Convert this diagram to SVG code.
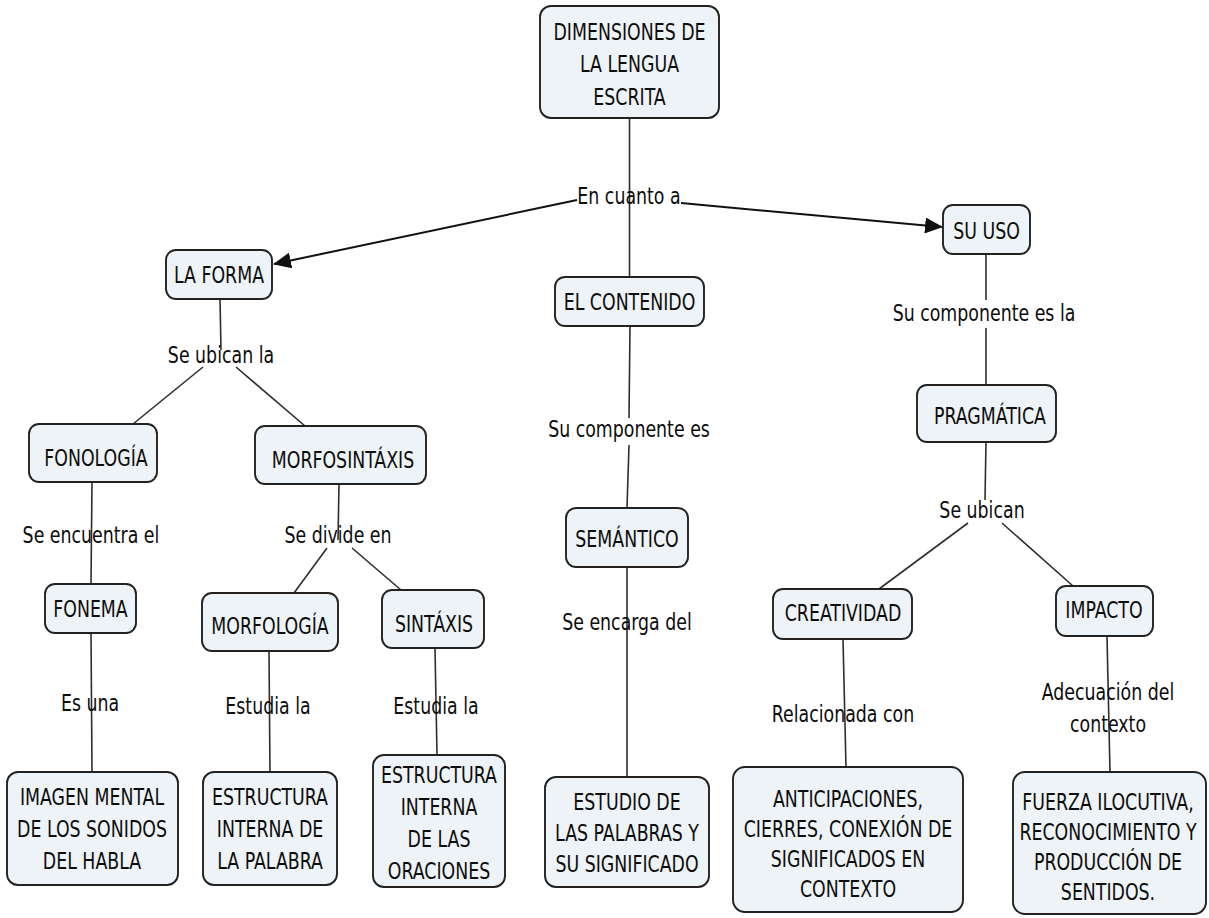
<svg xmlns="http://www.w3.org/2000/svg" width="1209" height="918" viewBox="0 0 1209 918">
<style>
.box{fill:#edf3f6;stroke:#222;stroke-width:1.9}
.t{font-family:"DejaVu Sans Condensed","DejaVu Sans",sans-serif;font-size:23px;fill:#0d0d0d;text-anchor:middle}
.c{stroke:#2e2e2e;stroke-width:1.6;fill:none}
.a{stroke:#111;stroke-width:2;fill:none}
</style>
<defs>
<marker id="arr" markerUnits="userSpaceOnUse" markerWidth="18" markerHeight="16" viewBox="0 0 18 16" refX="17" refY="8" orient="auto">
<path d="M0,0 L18,8 L0,16 Z" fill="#111"/>
</marker>
</defs>
<rect width="1209" height="918" fill="#fff"/>
<g id="connectors">
<line class="c" x1="629.5" y1="118" x2="629.5" y2="277"/>
<line class="a" x1="577" y1="200" x2="274" y2="264" marker-end="url(#arr)"/>
<line class="a" x1="681" y1="203" x2="942" y2="227" marker-end="url(#arr)"/>
<line class="c" x1="220" y1="299" x2="221" y2="350"/>
<line class="c" x1="203" y1="367" x2="133" y2="424"/>
<line class="c" x1="236" y1="367" x2="305" y2="426"/>
<line class="c" x1="92" y1="482" x2="91" y2="584"/>
<line class="c" x1="339" y1="484" x2="338" y2="540"/>
<line class="c" x1="327" y1="548" x2="294" y2="593"/>
<line class="c" x1="352" y1="548" x2="401" y2="590"/>
<line class="c" x1="91" y1="633" x2="92" y2="772"/>
<line class="c" x1="269" y1="651" x2="270" y2="772"/>
<line class="c" x1="435" y1="648" x2="437" y2="755"/>
<line class="c" x1="630" y1="326" x2="629" y2="418"/>
<line class="c" x1="629" y1="445" x2="627" y2="508"/>
<line class="c" x1="627" y1="567" x2="627" y2="777"/>
<line class="c" x1="986" y1="254" x2="986" y2="300"/>
<line class="c" x1="986" y1="328" x2="986" y2="385"/>
<line class="c" x1="986" y1="442" x2="985" y2="500"/>
<line class="c" x1="968" y1="523" x2="879" y2="589"/>
<line class="c" x1="1002" y1="523" x2="1073" y2="586"/>
<line class="c" x1="843" y1="639" x2="846" y2="767"/>
<line class="c" x1="1107" y1="636" x2="1110" y2="772"/>
</g>
<g id="labels">
<text class="t" transform="translate(629,204) scale(0.84,1)">En cuanto a</text>
<text class="t" transform="translate(221,363) scale(0.84,1)">Se ubican la</text>
<text class="t" transform="translate(91,543) scale(0.84,1)">Se encuentra el</text>
<text class="t" transform="translate(338,543) scale(0.84,1)">Se divide en</text>
<text class="t" transform="translate(90,711) scale(0.84,1)">Es una</text>
<text class="t" transform="translate(268,714) scale(0.84,1)">Estudia la</text>
<text class="t" transform="translate(436,714) scale(0.84,1)">Estudia la</text>
<text class="t" transform="translate(629,437) scale(0.84,1)">Su componente es</text>
<text class="t" transform="translate(627,630) scale(0.84,1)">Se encarga del</text>
<text class="t" transform="translate(984,321) scale(0.84,1)">Su componente es la</text>
<text class="t" transform="translate(982,518) scale(0.84,1)">Se ubican</text>
<text class="t" transform="translate(843,722) scale(0.84,1)">Relacionada con</text>
<text class="t" transform="translate(1108,700) scale(0.84,1)"><tspan x="0">Adecuación del</tspan><tspan x="0" dy="32">contexto</tspan></text>
</g>
<g id="n-dimensiones"><rect class="box" x="540" y="6" width="179" height="112" rx="11"/>
<text class="t" transform="translate(629.5,40) scale(0.84,1)"><tspan x="0">DIMENSIONES DE</tspan><tspan x="0" dy="32.5">LA LENGUA</tspan><tspan x="0" dy="32.5">ESCRITA</tspan></text></g>
<g id="n-forma"><rect class="box" x="166" y="250" width="106" height="49" rx="10"/>
<text class="t" transform="translate(219,283) scale(0.84,1)">LA FORMA</text></g>
<g id="n-contenido"><rect class="box" x="555" y="277" width="149" height="49" rx="10"/>
<text class="t" transform="translate(629.5,310) scale(0.84,1)">EL CONTENIDO</text></g>
<g id="n-uso"><rect class="box" x="943" y="205" width="87" height="49" rx="10"/>
<text class="t" transform="translate(986.5,239) scale(0.84,1)">SU USO</text></g>
<g id="n-fonologia"><rect class="box" x="29" y="424" width="128" height="58" rx="10"/>
<text class="t" transform="translate(96,466) scale(0.84,1)">FONOLOGÍA</text></g>
<g id="n-morfosintaxis"><rect class="box" x="255" y="426" width="171" height="58" rx="10"/>
<text class="t" transform="translate(343,468) scale(0.84,1)">MORFOSINTÁXIS</text></g>
<g id="n-fonema"><rect class="box" x="45" y="584" width="91" height="49" rx="10"/>
<text class="t" transform="translate(90.5,617) scale(0.84,1)">FONEMA</text></g>
<g id="n-morfologia"><rect class="box" x="202" y="593" width="136" height="58" rx="10"/>
<text class="t" transform="translate(270,634) scale(0.84,1)">MORFOLOGÍA</text></g>
<g id="n-sintaxis"><rect class="box" x="382" y="590" width="102" height="58" rx="10"/>
<text class="t" transform="translate(434,632) scale(0.84,1)">SINTÁXIS</text></g>
<g id="n-imagen"><rect class="box" x="7" y="772" width="171" height="113" rx="11"/>
<text class="t" transform="translate(92,805) scale(0.84,1)"><tspan x="0">IMAGEN MENTAL</tspan><tspan x="0" dy="32">DE LOS SONIDOS</tspan><tspan x="0" dy="32">DEL HABLA</tspan></text></g>
<g id="n-estructura-palabra"><rect class="box" x="203" y="772" width="134" height="113" rx="11"/>
<text class="t" transform="translate(270,805) scale(0.84,1)"><tspan x="0">ESTRUCTURA</tspan><tspan x="0" dy="32">INTERNA DE</tspan><tspan x="0" dy="32">LA PALABRA</tspan></text></g>
<g id="n-estructura-oraciones"><rect class="box" x="373" y="755" width="132" height="132" rx="11"/>
<text class="t" transform="translate(439,783) scale(0.84,1)"><tspan x="0">ESTRUCTURA</tspan><tspan x="0" dy="32">INTERNA</tspan><tspan x="0" dy="32">DE LAS</tspan><tspan x="0" dy="32">ORACIONES</tspan></text></g>
<g id="n-semantico"><rect class="box" x="566" y="508" width="122" height="59" rx="10"/>
<text class="t" transform="translate(627,547) scale(0.84,1)">SEMÁNTICO</text></g>
<g id="n-estudio"><rect class="box" x="545" y="777" width="164" height="110" rx="11"/>
<text class="t" transform="translate(627,810) scale(0.84,1)"><tspan x="0">ESTUDIO DE</tspan><tspan x="0" dy="31">LAS PALABRAS Y</tspan><tspan x="0" dy="31">SU SIGNIFICADO</tspan></text></g>
<g id="n-pragmatica"><rect class="box" x="917" y="385" width="139" height="57" rx="10"/>
<text class="t" transform="translate(990,424) scale(0.84,1)">PRAGMÁTICA</text></g>
<g id="n-creatividad"><rect class="box" x="773" y="589" width="139" height="50" rx="10"/>
<text class="t" transform="translate(843,621) scale(0.84,1)">CREATIVIDAD</text></g>
<g id="n-impacto"><rect class="box" x="1056" y="586" width="97" height="50" rx="10"/>
<text class="t" transform="translate(1104,618) scale(0.84,1)">IMPACTO</text></g>
<g id="n-anticipaciones"><rect class="box" x="733" y="767" width="230" height="145" rx="12"/>
<text class="t" transform="translate(848,807) scale(0.84,1)"><tspan x="0">ANTICIPACIONES,</tspan><tspan x="0" dy="30">CIERRES, CONEXIÓN DE</tspan><tspan x="0" dy="30">SIGNIFICADOS EN</tspan><tspan x="0" dy="30">CONTEXTO</tspan></text></g>
<g id="n-fuerza"><rect class="box" x="1013" y="772" width="193" height="142" rx="12"/>
<text class="t" transform="translate(1108,810) scale(0.84,1)"><tspan x="0">FUERZA ILOCUTIVA,</tspan><tspan x="0" dy="30">RECONOCIMIENTO Y</tspan><tspan x="0" dy="30">PRODUCCIÓN DE</tspan><tspan x="0" dy="30">SENTIDOS.</tspan></text></g>
</svg>
